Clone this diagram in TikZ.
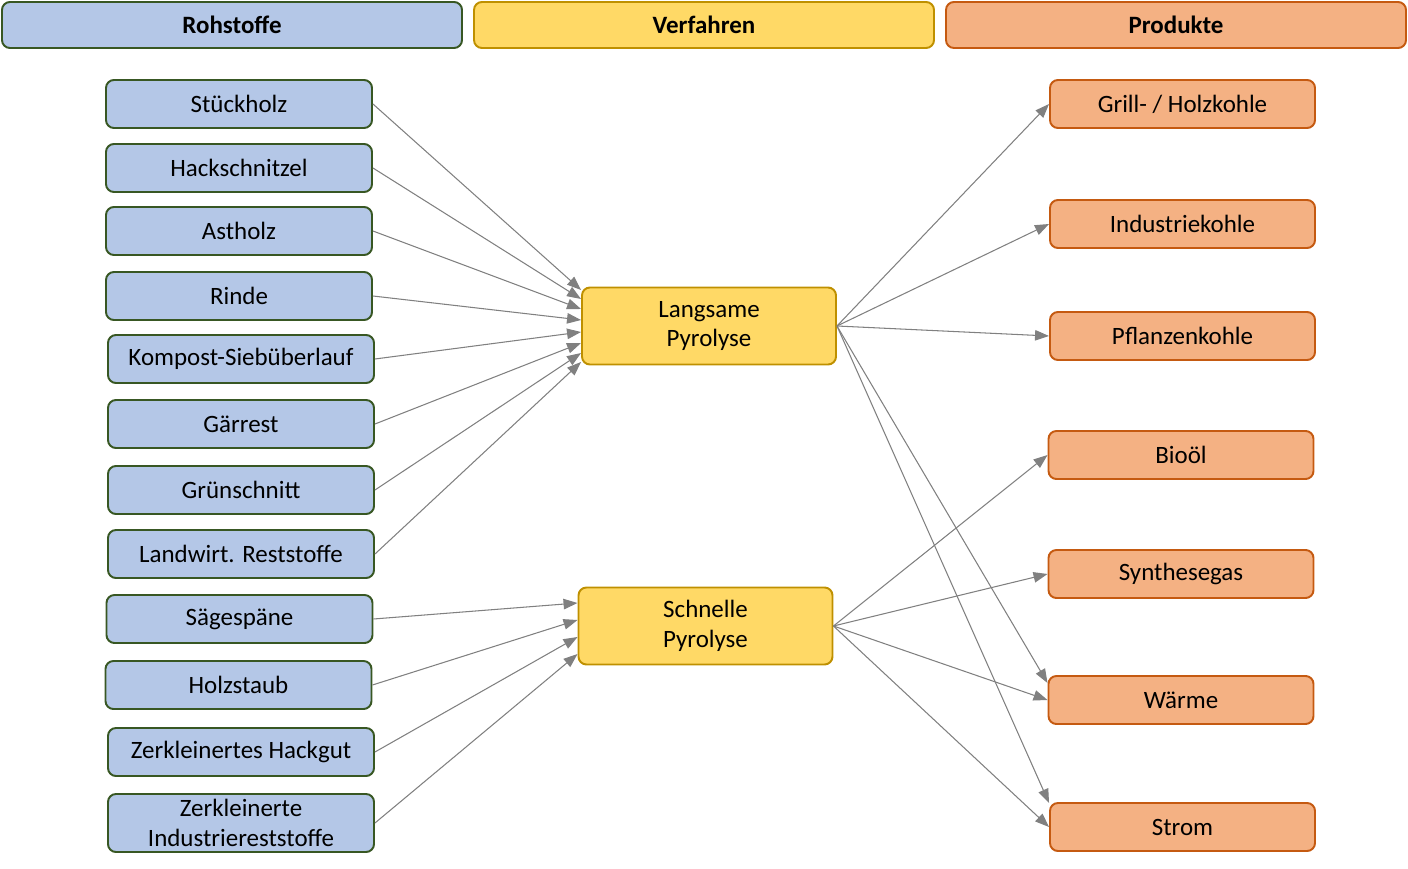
\documentclass[tikz,border=0pt]{standalone}
\usepackage{fontspec}
\setmainfont{Carlito}
\usetikzlibrary{arrows.meta}
\definecolor{rohBlue}{RGB}{180,199,231}
\definecolor{rohGreen}{RGB}{56,87,35}
\definecolor{verfYellow}{RGB}{255,217,102}
\definecolor{verfGold}{RGB}{191,144,0}
\definecolor{prodOrange}{RGB}{244,177,131}
\definecolor{prodRust}{RGB}{197,90,17}
\definecolor{arrGray}{RGB}{128,128,128}
\tikzset{
  basebox/.style={
    rectangle, rounded corners=4.5pt, line width=1.1pt, inner sep=1pt,
    align=center, font=\fontsize{14.2}{17}\selectfont
  },
  headbox/.style={basebox, minimum width=9.2cm, minimum height=0.92cm,
    font=\fontsize{14.2}{17}\selectfont\bfseries},
  rohbox/.style={basebox, draw=rohGreen, fill=rohBlue,
    minimum width=5.32cm, minimum height=0.96cm},
  verfbox/.style={basebox, draw=verfGold, fill=verfYellow,
    minimum width=5.08cm, minimum height=1.54cm},
  prodbox/.style={basebox, draw=prodRust, fill=prodOrange,
    minimum width=5.3cm, minimum height=0.96cm},
  flow/.style={-{Triangle[length=0.28cm,width=0.21cm]}, draw=arrGray, line width=0.6pt}
}
\begin{document}
\begin{tikzpicture}
  \useasboundingbox (0,0) rectangle (28.16,-17.38);
  % Spaltenköpfe
  \node[headbox, draw=rohGreen, fill=rohBlue] (hr) at (4.64,-0.50) {Rohstoffe};
  \node[headbox, draw=verfGold, fill=verfYellow] (hv) at (14.08,-0.50) {Verfahren};
  \node[headbox, draw=prodRust, fill=prodOrange] (hp) at (23.52,-0.50) {Produkte};
  % Rohstoffe
  \node[rohbox] (st) at (4.78,-2.08) {Stückholz};
  \node[rohbox] (hs) at (4.78,-3.36) {Hackschnitzel};
  \node[rohbox] (ah) at (4.78,-4.62) {Astholz};
  \node[rohbox] (ri) at (4.78,-5.92) {Rinde};
  \node[rohbox] (ko) at (4.82,-7.18) {Kompost-Siebüberlauf};
  \node[rohbox] (ga) at (4.82,-8.48) {Gärrest};
  \node[rohbox] (gs) at (4.82,-9.80) {Grünschnitt};
  \node[rohbox] (lw) at (4.82,-11.08) {Landwirt. Reststoffe};
  \node[rohbox] (sa) at (4.79,-12.38) {Sägespäne};
  \node[rohbox] (hz) at (4.77,-13.70) {Holzstaub};
  \node[rohbox] (zh) at (4.82,-15.04) {Zerkleinertes Hackgut};
  \node[rohbox, minimum height=1.16cm] (zi) at (4.82,-16.46) {Zerkleinerte\\Industriereststoffe};
  % Verfahren
  \node[verfbox] (lp) at (14.18,-6.52) {Langsame\\Pyrolyse};
  \node[verfbox] (sn) at (14.11,-12.52) {Schnelle\\Pyrolyse};
  % Produkte
  \node[prodbox] (gk) at (23.65,-2.08) {Grill- / Holzkohle};
  \node[prodbox] (ik) at (23.65,-4.48) {Industriekohle};
  \node[prodbox] (pk) at (23.65,-6.72) {Pflanzenkohle};
  \node[prodbox] (bo) at (23.62,-9.10) {Bioöl};
  \node[prodbox] (sg) at (23.62,-11.48) {Synthesegas};
  \node[prodbox] (wa) at (23.62,-14.00) {Wärme};
  \node[prodbox] (sr) at (23.65,-16.54) {Strom};
  % Pfeile Rohstoffe -> Verfahren
  \foreach \n/\o in {st/36,hs/27,ah/17,ri/6,ko/-6,ga/-17,gs/-27,lw/-36}
    \draw[flow] (\n.east) -- ([yshift=\o*0.02cm]lp.west);
  \foreach \n/\o in {sa/23,hz/6,zh/-11,zi/-28}
    \draw[flow] (\n.east) -- ([yshift=\o*0.02cm]sn.west);
  % Pfeile Verfahren -> Produkte
  \foreach \n/\o in {gk/0,ik/0,pk/0,wa/17,sr/24}
    \draw[flow] (lp.east) -- ([yshift=\o*0.02cm]\n.west);
  \foreach \n/\o in {bo/0,sg/0,wa/0,sr/0}
    \draw[flow] (sn.east) -- ([yshift=\o*0.02cm]\n.west);
\end{tikzpicture}
\end{document}
